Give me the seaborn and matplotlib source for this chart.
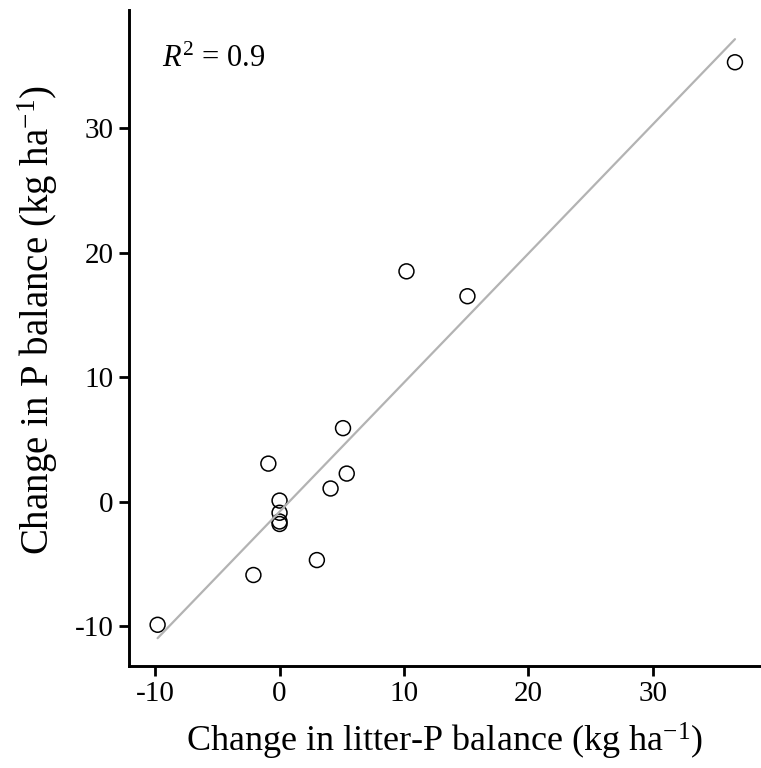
import numpy as np
import pandas as pd
import seaborn as sns
import matplotlib
matplotlib.use("Agg")
import matplotlib.pyplot as plt

litter_p = [36.6, 10.2, 15.1, 5.1, -0.9, 5.4, 4.1, 0.0, 0.0, 0.0, 0.0, 3.0, -2.1, -9.8]
p_balance = [35.3, 18.5, 16.5, 5.9, 3.05, 2.25, 1.05, 0.08, -0.9, -1.6, -1.8, -4.7, -5.9, -9.9]
x_ticks = [-10, 0, 10, 20, 30]
y_ticks = [-10, 0, 10, 20, 30]

df = pd.DataFrame({"x": litter_p, "y": p_balance})

sns.set_theme(style="ticks")
plt.rcParams["font.family"] = ["Liberation Serif", "DejaVu Serif"]
plt.rcParams["mathtext.fontset"] = "custom"
plt.rcParams["mathtext.rm"] = "Liberation Serif"
plt.rcParams["mathtext.it"] = "Liberation Serif:italic"
plt.rcParams["axes.unicode_minus"] = False
plt.rcParams["text.color"] = "black"

fig = plt.figure(figsize=(7.61, 7.68), dpi=100)
ax = fig.add_axes([0.1695, 0.133, 0.829, 0.854])

sns.regplot(data=df, x="x", y="y", ci=None, scatter=False, ax=ax,
            line_kws=dict(color="#b3b3b3", lw=1.6), truncate=True)
sns.scatterplot(data=df, x="x", y="y", ax=ax, s=115, facecolor="none",
                edgecolor="black", linewidth=1.1, marker="o")

ax.set_xlim(-12.1, 38.6)
ax.set_ylim(-13.2, 39.5)
ax.set_xticks(x_ticks)
ax.set_yticks(y_ticks)
ax.set_xticklabels([str(t) for t in x_ticks])
ax.set_yticklabels([str(t) for t in y_ticks])
ax.tick_params(labelsize=21, length=7, width=2.0, color="black", labelcolor="black", pad=4)
for s in ["left", "bottom"]:
    ax.spines[s].set_linewidth(2.1)
    ax.spines[s].set_color("black")
sns.despine(ax=ax)

ax.set_xlabel("Change in litter-P balance (kg ha$^{-1}$)", fontsize=26, color="black", labelpad=10)
ax.set_ylabel("Change in P balance (kg ha$^{-1}$)", fontsize=28, color="black", labelpad=10)
ax.yaxis.set_label_coords(-0.11, 0.527)
ax.text(0.052, 0.924, "$R^2$ = 0.9", transform=ax.transAxes, fontsize=22, va="center", ha="left",
        color="black")

fig.savefig("out.png", dpi=100)
